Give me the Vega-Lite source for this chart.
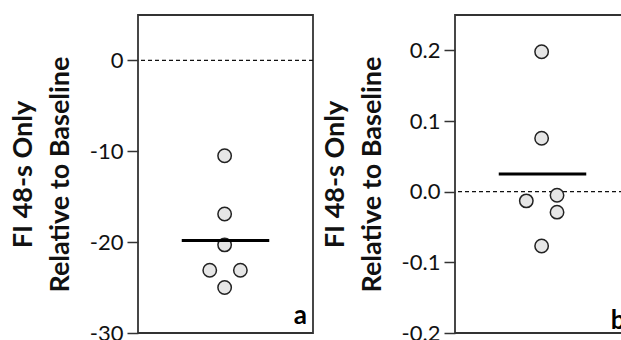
{
  "$schema": "https://vega.github.io/schema/vega-lite/v6.json",
  "padding": {"left": 8, "top": 14, "right": 0, "bottom": 0},
  "spacing": 5,
  "config": {
    "font": "Lato",
    "view": {"stroke": "#333", "strokeWidth": 1.8},
    "axis": {
      "grid": false,
      "domain": false,
      "tickSize": 11,
      "tickColor": "#333",
      "tickWidth": 1.5,
      "labelFontSize": 22,
      "labelPadding": 4,
      "labelColor": "#111",
      "labelFontWeight": "normal",
      "labelExpr": "replace(datum.label, '−', '-')",
      "titleFontSize": 27,
      "titleFontWeight": "bold",
      "titleColor": "#111",
      "titlePadding": 15,
      "titleLineHeight": 37
    }
  },
  "datasets": {
    "a": [
      {"jitter": -0.01, "value": -10.5},
      {"jitter": -0.01, "value": -16.9},
      {"jitter": -0.01, "value": -20.3},
      {"jitter": -0.18, "value": -23.1},
      {"jitter": 0.17, "value": -23.1},
      {"jitter": -0.01, "value": -25.0}
    ],
    "b": [
      {"jitter": -0.01, "value": 0.198},
      {"jitter": -0.01, "value": 0.0756},
      {"jitter": 0.166, "value": -0.005},
      {"jitter": -0.185, "value": -0.013},
      {"jitter": 0.166, "value": -0.029},
      {"jitter": -0.01, "value": -0.077}
    ]
  },
  "hconcat": [
    {
      "width": 175,
      "height": 318,
      "layer": [
        {
          "data": {"values": [{"ref": 0}]},
          "mark": {"type": "rule", "strokeDash": [4, 3], "color": "#111", "strokeWidth": 1.3},
          "encoding": {"y": {"field": "ref", "type": "quantitative"}}
        },
        {
          "data": {"name": "a"},
          "mark": {"type": "point", "filled": true, "fill": "#e6e6e6", "stroke": "#222", "strokeWidth": 1.5, "size": 180, "opacity": 1},
          "encoding": {
            "x": {"field": "jitter", "type": "quantitative", "scale": {"domain": [-1, 1]}, "axis": null},
            "y": {"field": "value", "type": "quantitative", "scale": {"domain": [-30, 5], "nice": false, "zero": false},
              "axis": {"values": [-30, -20, -10, 0], "title": ["FI 48-s Only", "Relative to Baseline"]}}
          }
        },
        {
          "data": {"name": "a"},
          "mark": {"type": "rule", "strokeWidth": 3, "color": "#000"},
          "encoding": {
            "x": {"datum": -0.5},
            "x2": {"datum": 0.5},
            "y": {"aggregate": "mean", "field": "value", "type": "quantitative"}
          }
        },
        {
          "data": {"values": [{"label": "a", "lx": 0.78, "ly": -29}]},
          "mark": {"type": "text", "fontSize": 26, "fontWeight": "bold", "align": "left", "baseline": "alphabetic", "color": "#000"},
          "encoding": {
            "x": {"field": "lx", "type": "quantitative"},
            "y": {"field": "ly", "type": "quantitative"},
            "text": {"field": "label"}
          }
        }
      ]
    },
    {
      "width": 175,
      "height": 318,
      "layer": [
        {
          "data": {"values": [{"ref": 0}]},
          "mark": {"type": "rule", "strokeDash": [4, 3], "color": "#111", "strokeWidth": 1.3},
          "encoding": {"y": {"field": "ref", "type": "quantitative"}}
        },
        {
          "data": {"name": "b"},
          "mark": {"type": "point", "filled": true, "fill": "#e6e6e6", "stroke": "#222", "strokeWidth": 1.5, "size": 180, "opacity": 1},
          "encoding": {
            "x": {"field": "jitter", "type": "quantitative", "scale": {"domain": [-1, 1]}, "axis": null},
            "y": {"field": "value", "type": "quantitative", "scale": {"domain": [-0.2, 0.25], "nice": false, "zero": false},
              "axis": {"values": [-0.2, -0.1, 0, 0.1, 0.2], "format": ".1f", "title": ["FI 48-s Only", "Relative to Baseline"]}}
          }
        },
        {
          "data": {"name": "b"},
          "mark": {"type": "rule", "strokeWidth": 3, "color": "#000"},
          "encoding": {
            "x": {"datum": -0.5},
            "x2": {"datum": 0.5},
            "y": {"aggregate": "mean", "field": "value", "type": "quantitative"}
          }
        },
        {
          "data": {"values": [{"label": "b", "lx": 0.78, "ly": -0.195}]},
          "mark": {"type": "text", "fontSize": 26, "fontWeight": "bold", "align": "left", "baseline": "alphabetic", "color": "#000"},
          "encoding": {
            "x": {"field": "lx", "type": "quantitative"},
            "y": {"field": "ly", "type": "quantitative"},
            "text": {"field": "label"}
          }
        }
      ]
    }
  ]
}
